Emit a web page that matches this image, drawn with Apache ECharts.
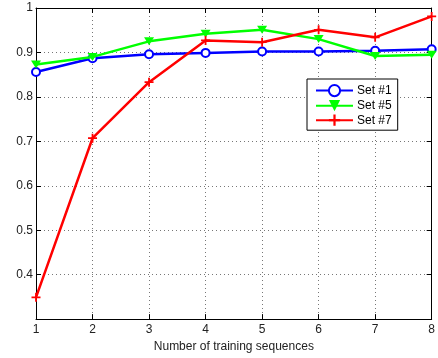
<!DOCTYPE html>
<html>
<head>
<meta charset="utf-8">
<script src="https://cdn.jsdelivr.net/npm/echarts@6/dist/echarts.min.js"></script>
<style>
html,body{margin:0;padding:0;background:#fff;}
#c{width:438px;height:358px;}
</style>
</head>
<body>
<div id="c"></div>
<script>
const categories = [1, 2, 3, 4, 5, 6, 7, 8];
const set1 = [0.856, 0.887, 0.896, 0.899, 0.902, 0.902, 0.904, 0.907];
const set5 = [0.873, 0.890, 0.925, 0.942, 0.951, 0.930, 0.892, 0.895];
const set7 = [0.349, 0.707, 0.833, 0.927, 0.923, 0.951, 0.934, 0.981];
const seriesNames = ['Set #1', 'Set #5', 'Set #7'];
const xTickLabels = ['1', '2', '3', '4', '5', '6', '7', '8'];
const yTickLabels = ['0.4', '0.5', '0.6', '0.7', '0.8', '0.9', '1'];

const font = 'Liberation Sans, Arial, sans-serif';
const pairs = arr => categories.map((c, i) => [c, arr[i]]);
const plusPath = 'path://M4,0 L6,0 L6,4 L10,4 L10,6 L6,6 L6,10 L4,10 L4,6 L0,6 L0,4 L4,4 Z';

const chart = echarts.init(document.getElementById('c'), null, {renderer: 'canvas'});
const grid = {left: 36, right: 3, top: 8, bottom: 35, containLabel: false};
const axisLine = {show: true, lineStyle: {color: '#000', width: 1}};
const tick = {show: true, inside: true, length: 5, lineStyle: {color: '#000'}};
const split = {show: true, lineStyle: {color: '#777', type: [1, 3], width: 1}};

chart.setOption({
  animation: false,
  backgroundColor: '#fff',
  grid: grid,
  legend: {
    orient: 'vertical',
    left: 307, top: 79,
    padding: [5, 6, 4, 8],
    itemGap: 2.5,
    itemWidth: 37, itemHeight: 14,
    backgroundColor: '#fff',
    borderColor: '#000', borderWidth: 1,
    textStyle: {fontFamily: font, fontSize: 12, color: '#000', padding: [0, 0, 0, -1]},
    data: seriesNames
  },
  xAxis: [{
    type: 'value', min: 1, max: 8, interval: 1, position: 'bottom',
    axisLine: axisLine, axisTick: tick, splitLine: split,
    axisLabel: {fontFamily: font, fontSize: 12, color: '#222', margin: 5,
      formatter: v => xTickLabels[categories.indexOf(v)] ?? ''},
    name: 'Number of training sequences', nameLocation: 'middle', nameGap: 20,
    nameTextStyle: {fontFamily: font, fontSize: 12, color: '#222'}
  }, {
    type: 'value', min: 1, max: 8, interval: 1, position: 'top',
    axisLine: axisLine, axisTick: tick, splitLine: {show: false}, axisLabel: {show: false}
  }],
  yAxis: [{
    type: 'value', min: 0.3, max: 1, interval: 0.1, position: 'left',
    axisLine: axisLine, axisTick: tick, splitLine: split,
    axisLabel: {fontFamily: font, fontSize: 12, color: '#222', margin: 3, showMinLabel: false,
      formatter: v => { const s = yTickLabels.find(t => Math.abs(parseFloat(t) - v) < 1e-6); return s ?? ''; }}
  }, {
    type: 'value', min: 0.3, max: 1, interval: 0.1, position: 'right',
    axisLine: axisLine, axisTick: tick, splitLine: {show: false}, axisLabel: {show: false}
  }],
  series: [{
    name: seriesNames[0], type: 'line', data: pairs(set1),
    symbol: 'emptyCircle', symbolSize: 8,
    lineStyle: {color: '#0000ff', width: 2.5},
    itemStyle: {color: '#0000ff', borderColor: '#0000ff', borderWidth: 2},
    z: 2
  }, {
    name: seriesNames[1], type: 'line', data: pairs(set5),
    symbol: 'triangle', symbolRotate: 180, symbolSize: [10, 8],
    lineStyle: {color: '#00ff00', width: 2.5},
    itemStyle: {color: '#00ff00'},
    z: 3
  }, {
    name: seriesNames[2], type: 'line', data: pairs(set7),
    symbol: plusPath, symbolSize: 9,
    lineStyle: {color: '#ff0000', width: 2.5},
    itemStyle: {color: '#ff0000'},
    z: 4
  }]
});
</script>
</body>
</html>
